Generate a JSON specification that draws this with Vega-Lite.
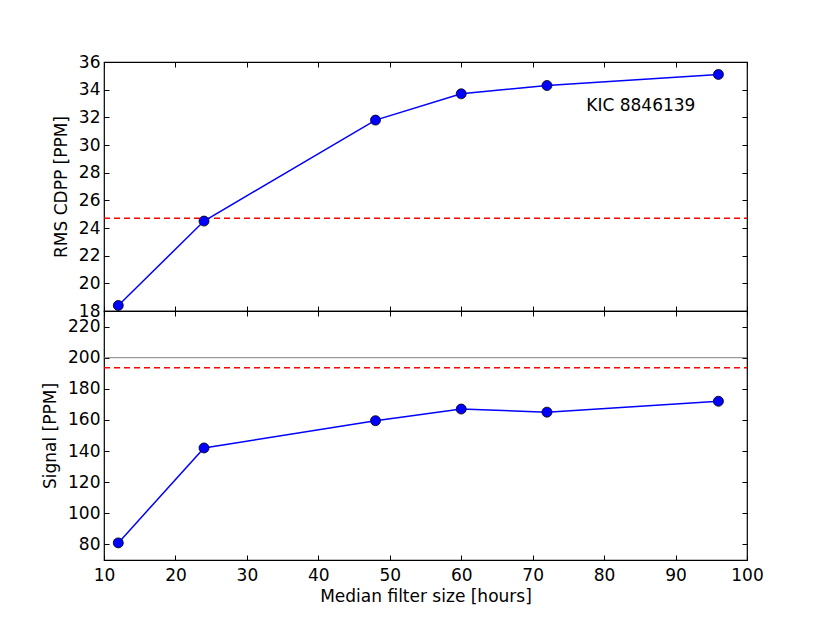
{
  "$schema": "https://vega.github.io/schema/vega-lite/v6.json",
  "padding": {"left": 40, "top": 52, "right": 20, "bottom": 10},
  "background": "white",
  "datasets": {
    "kic": [
      {"hours": 12, "cdpp": 18.4, "signal": 81},
      {"hours": 24, "cdpp": 24.5, "signal": 142},
      {"hours": 48, "cdpp": 31.8, "signal": 159.5},
      {"hours": 60, "cdpp": 33.7, "signal": 167},
      {"hours": 72, "cdpp": 34.3, "signal": 165},
      {"hours": 96, "cdpp": 35.1, "signal": 172}
    ],
    "one": [{}]
  },
  "spacing": 0,
  "bounds": "flush",
  "vconcat": [
    {
      "width": 643,
      "height": 249,
      "layer": [
        {
          "data": {"name": "one"},
          "mark": {"type": "rule", "color": "red", "strokeDash": [6, 4], "strokeWidth": 1.5},
          "encoding": {
            "x": {"datum": 10, "type": "quantitative", "scale": {"domain": [10, 100], "nice": false, "zero": false}, "axis": {"orient": "bottom", "labels": false, "title": null, "tickCount": 9}},
            "x2": {"datum": 100},
            "y": {"datum": 24.7, "type": "quantitative", "scale": {"domain": [18, 36], "nice": false, "zero": false}, "axis": {"orient": "left", "title": "RMS CDPP [PPM]", "values": [18, 20, 22, 24, 26, 28, 30, 32, 34, 36]}}
          }
        },
        {
          "data": {"name": "kic"},
          "mark": {"type": "line", "color": "blue", "strokeWidth": 1.5},
          "encoding": {
            "x": {"field": "hours", "type": "quantitative", "axis": {"orient": "top", "labels": false, "title": null, "tickCount": 9}},
            "y": {"field": "cdpp", "type": "quantitative", "axis": {"orient": "right", "labels": false, "title": null, "values": [18, 20, 22, 24, 26, 28, 30, 32, 34, 36]}}
          }
        },
        {
          "data": {"name": "kic"},
          "mark": {"type": "point", "filled": true, "fill": "blue", "stroke": "black", "strokeWidth": 0.8, "size": 100, "opacity": 1},
          "encoding": {
            "x": {"field": "hours", "type": "quantitative", "axis": null},
            "y": {"field": "cdpp", "type": "quantitative", "axis": null}
          }
        },
        {
          "data": {"name": "one"},
          "mark": {"type": "text", "align": "left", "baseline": "middle", "font": "DejaVu Sans", "fontSize": 17, "color": "black"},
          "encoding": {
            "x": {"datum": 77.5, "type": "quantitative", "axis": null},
            "y": {"datum": 32.8, "type": "quantitative", "axis": null},
            "text": {"value": "KIC 8846139"}
          }
        }
      ],
      "resolve": {"axis": {"x": "independent", "y": "independent"}}
    },
    {
      "width": 643,
      "height": 249,
      "layer": [
        {
          "data": {"name": "one"},
          "mark": {"type": "rule", "color": "#808080", "strokeWidth": 1},
          "encoding": {
            "x": {"datum": 10, "type": "quantitative", "scale": {"domain": [10, 100], "nice": false, "zero": false}, "axis": {"orient": "bottom", "title": "Median filter size [hours]", "tickCount": 9}},
            "x2": {"datum": 100},
            "y": {"datum": 200, "type": "quantitative", "scale": {"domain": [70, 230], "nice": false, "zero": false}, "axis": {"orient": "left", "title": "Signal [PPM]", "values": [80, 100, 120, 140, 160, 180, 200, 220]}}
          }
        },
        {
          "data": {"name": "one"},
          "mark": {"type": "rule", "color": "red", "strokeDash": [6, 4], "strokeWidth": 1.5},
          "encoding": {
            "x": {"datum": 10, "type": "quantitative", "axis": null},
            "x2": {"datum": 100},
            "y": {"datum": 193.5, "type": "quantitative", "axis": null}
          }
        },
        {
          "data": {"name": "kic"},
          "mark": {"type": "line", "color": "blue", "strokeWidth": 1.5},
          "encoding": {
            "x": {"field": "hours", "type": "quantitative", "axis": {"orient": "top", "labels": false, "title": null, "tickCount": 9}},
            "y": {"field": "signal", "type": "quantitative", "axis": {"orient": "right", "labels": false, "title": null, "values": [80, 100, 120, 140, 160, 180, 200, 220]}}
          }
        },
        {
          "data": {"name": "kic"},
          "mark": {"type": "point", "filled": true, "fill": "blue", "stroke": "black", "strokeWidth": 0.8, "size": 100, "opacity": 1},
          "encoding": {
            "x": {"field": "hours", "type": "quantitative", "axis": null},
            "y": {"field": "signal", "type": "quantitative", "axis": null}
          }
        }
      ],
      "resolve": {"axis": {"x": "independent", "y": "independent"}}
    }
  ],
  "config": {
    "font": "DejaVu Sans",
    "view": {"stroke": "black", "strokeWidth": 1.2},
    "axis": {
      "domain": false,
      "grid": false,
      "ticks": true,
      "tickSize": -5,
      "tickColor": "black",
      "tickWidth": 1,
      "labelFont": "DejaVu Sans",
      "labelFontSize": 17,
      "labelColor": "black",
      "titleFont": "DejaVu Sans",
      "titleFontSize": 17,
      "titleFontWeight": "normal",
      "titleColor": "black",
      "labelFlush": false,
      "labelOverlap": false
    },
    "axisX": {"labelPadding": 12, "titlePadding": 5},
    "axisY": {"labelPadding": 9, "titlePadding": 8}
  }
}
